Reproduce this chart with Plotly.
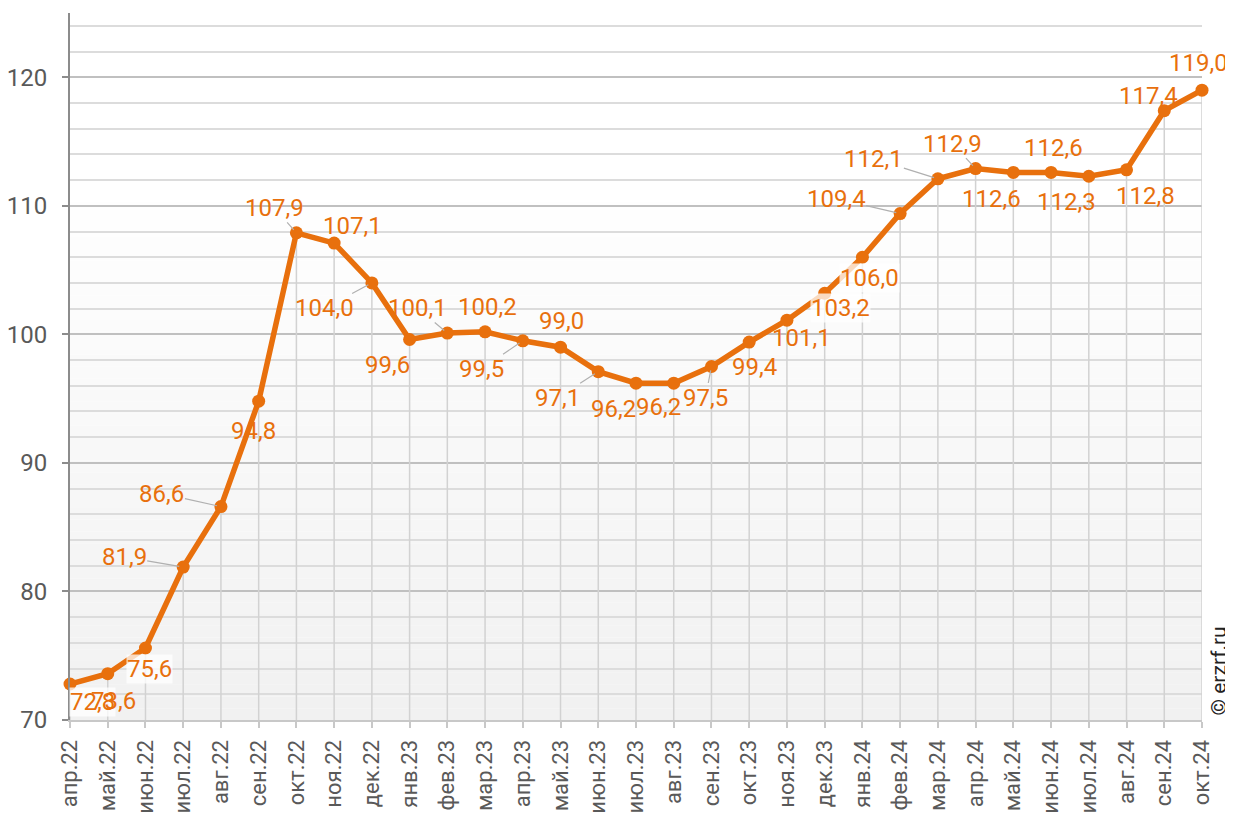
import plotly.graph_objects as go

months = ["апр.22", "май.22", "июн.22", "июл.22", "авг.22", "сен.22", "окт.22", "ноя.22", "дек.22",
          "янв.23", "фев.23", "мар.23", "апр.23", "май.23", "июн.23", "июл.23", "авг.23", "сен.23",
          "окт.23", "ноя.23", "дек.23", "янв.24", "фев.24", "мар.24", "апр.24", "май.24", "июн.24",
          "июл.24", "авг.24", "сен.24", "окт.24"]
values = [72.8, 73.6, 75.6, 81.9, 86.6, 94.8, 107.9, 107.1, 104.0, 99.6, 100.1, 100.2, 99.5,
          99.0, 97.1, 96.2, 96.2, 97.5, 99.4, 101.1, 103.2, 106.0, 109.4, 112.1, 112.9, 112.6,
          112.6, 112.3, 112.8, 117.4, 119.0]
y_ticks = [70, 80, 90, 100, 110, 120]
y_min, y_max = 70, 125

# label styling: pixel offsets of label centre from point, leader line flag, white backing flag
label_dx = [22, 6, 4, -59, -59, -5, -22, 18, -47, -22, -30, 2, -41, 1, -41, -23, -15, -6, 5, 15,
            16, 7, -64, -64, -23, -22, 2, -22, 19, -16, -4]
label_dy = [18, 27, 21, -10, -13, 30, -25, -17, 25, 25, -25, -25, 28, -26, 26, 26, 24, 31, 25, 18,
            15, 21, -15, -20, -25, 27, -24, 26, 26, -15, -27]
leader = [0, 0, 0, 1, 1, 0, 1, 0, 1, 0, 1, 0, 1, 0, 1, 0, 0, 1, 0, 0,
          0, 0, 1, 1, 1, 0, 0, 0, 0, 0, 0]
backing = [1, 0, 1, 0, 0, 0, 0, 0, 0, 0, 0, 0, 0, 0, 0, 0, 0, 0, 0, 0,
           1, 1, 0, 0, 0, 0, 0, 0, 0, 0, 0]

ORANGE = "#E8700D"
FONT = "Roboto"

fig = go.Figure()
# drop lines from each point down to the x axis
fig.add_trace(go.Scatter(
    x=months, y=values, mode="markers",
    marker=dict(size=0.1, color="rgba(0,0,0,0)"),
    error_y=dict(type="data", symmetric=False, array=[0] * len(values),
                 arrayminus=[v - y_min for v in values],
                 color="#d2d2d2", thickness=1.5, width=0),
    hoverinfo="skip", showlegend=False,
))
fig.add_trace(go.Scatter(
    x=months, y=values, mode="lines+markers",
    line=dict(color=ORANGE, width=5.5),
    marker=dict(color=ORANGE, size=13),
    cliponaxis=False, hoverinfo="skip", showlegend=False,
))

# gradient background of plot area
n = 60
shapes = []
for i in range(n):
    t = i / n  # 0 at bottom
    frac = max(0.0, min(1.0, t / 0.75))
    v = int(round(241 + (255 - 241) * frac))
    shapes.append(dict(type="rect", xref="x domain", yref="y domain",
                       x0=0, x1=1, y0=i / n, y1=(i + 1) / n,
                       fillcolor=f"rgb({v},{v},{v})", line=dict(width=0), layer="below"))

annotations = []
for i, (m, v) in enumerate(zip(months, values)):
    annotations.append(dict(
        x=m, y=v, xref="x", yref="y",
        text=f"{v:.1f}".replace(".", ","),
        showarrow=True, ax=label_dx[i], ay=label_dy[i], axref="pixel", ayref="pixel",
        arrowhead=0, arrowwidth=1.2,
        arrowcolor="#b0b0b0" if leader[i] else "rgba(0,0,0,0)",
        standoff=4,
        font=dict(family=FONT, size=24, color=ORANGE),
        bgcolor="rgba(255,255,255,0.75)" if backing[i] else "rgba(0,0,0,0)",
        borderpad=0,
    ))

annotations.append(dict(
    x=1.0, y=0.0, xref="paper", yref="paper", xanchor="center", yanchor="bottom",
    xshift=16, yshift=2,
    text="© erzrf.ru", showarrow=False, textangle=-90,
    font=dict(family=FONT, size=21, color="#222222"),
))

fig.update_layout(
    width=1233, height=814,
    margin=dict(l=62, r=39, t=5, b=102),
    paper_bgcolor="white", plot_bgcolor="white",
    font=dict(family=FONT, size=22, color="#595959"),
    shapes=shapes, annotations=annotations,
    xaxis=dict(
        type="category", range=[0, 30], tickangle=-90, automargin=False,
        showgrid=False,
        showline=True, linecolor="#c8c8c8", linewidth=2,
        ticks="outside", ticklen=6, tickcolor="#c8c8c8", tickwidth=2,
        ticklabelstandoff=3,
        tickfont=dict(family=FONT, size=22, color="#595959"),
        zeroline=False, fixedrange=True,
    ),
    yaxis=dict(
        range=[y_min, y_max], tickvals=y_ticks, automargin=False,
        showgrid=True, gridcolor="#c0c0c0", gridwidth=1.5,
        minor=dict(dtick=2, tick0=70, showgrid=True, gridcolor="#dcdcdc", gridwidth=1.5),
        showline=True, linecolor="#8c8c8c", linewidth=2,
        ticks="outside", ticklen=6, tickcolor="#8c8c8c", tickwidth=2,
        ticklabelstandoff=10,
        tickfont=dict(family=FONT, size=24, color="#595959"),
        zeroline=False, fixedrange=True,
    ),
)

fig.write_html("out.html")
